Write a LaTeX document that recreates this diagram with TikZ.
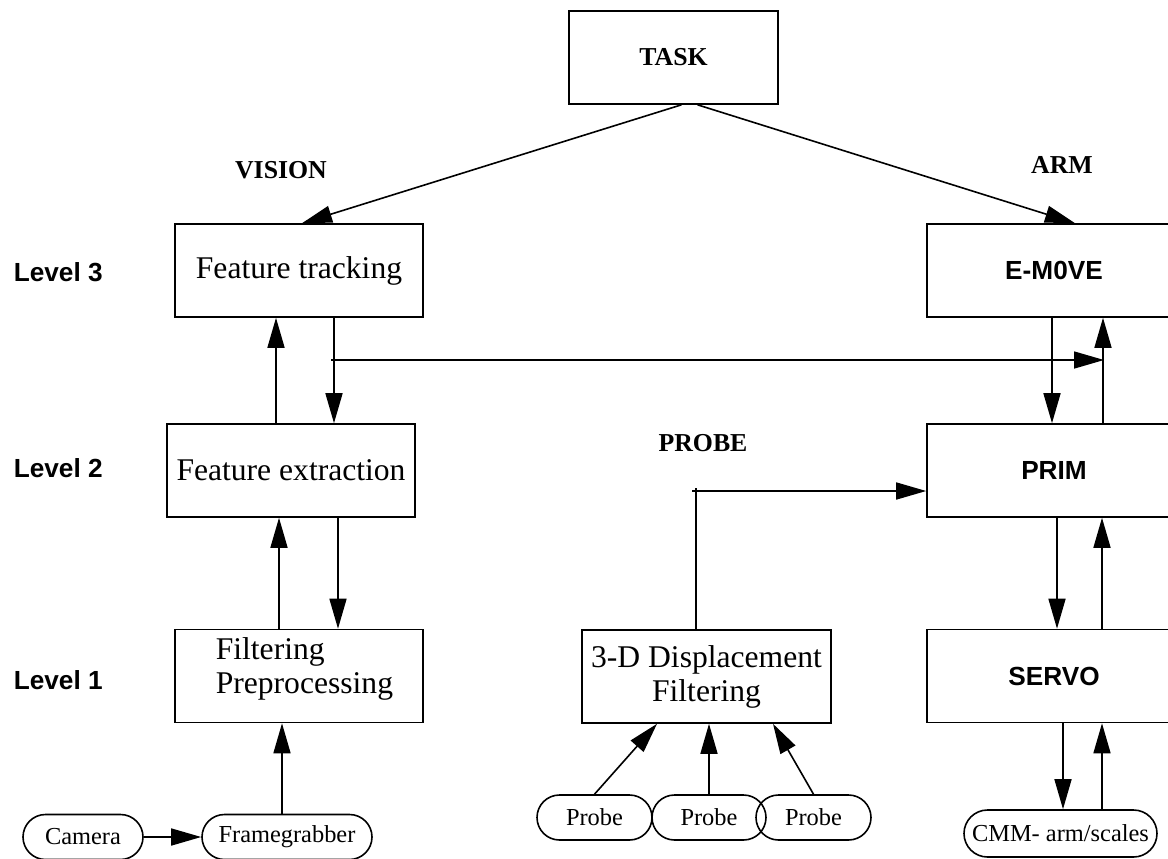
\documentclass[tikz,border=0pt]{standalone}
\usepackage{fontspec}
\setmainfont{Liberation Serif}
\setsansfont{Liberation Sans}
\usepackage{tikz}
\usetikzlibrary{positioning, arrows.meta, shapes.misc, calc}
\tikzset{
    block/.style={draw, line width=0.8pt, minimum height=46.5pt, inner sep=0pt},
    sensor/.style={draw, rounded rectangle, line width=0.8pt, minimum height=22.5pt, inner sep=0pt, font=\fontsize{12.2}{13}\selectfont},
    serif/.style={font=\fontsize{15.8}{17}\selectfont},
    head/.style={font=\fontsize{12.9}{14}\selectfont\bfseries, inner sep=0pt},
    lvl/.style={font=\fontsize{13.1}{14}\selectfont\sffamily\bfseries, inner sep=0pt},
}

\begin{document}
\begin{tikzpicture}[x=0.5pt, y=-0.5pt, line width=0.8pt, >={Triangle[length=15pt, width=8.5pt]}]
    \useasboundingbox (0,0) rectangle (1168,858);

    \node[block, head, minimum width=104.5pt] (task) at (673.5,57.5) {TASK};
    \node[head] (vision) at (281,170) {VISION};
    \node[head] (arm) at (1062,165) {ARM};
    \node[head] (probe) at (703,443) {PROBE};

    \node[lvl, anchor=west] (lev3) at (13,272) {Level 3};
    \node[lvl, anchor=west] (lev2) at (13,468) {Level 2};
    \node[lvl, anchor=west] (lev1) at (13,680) {Level 1};

    \node[block, serif, minimum width=124pt] (ftrack) at (299,270.5) {Feature tracking};
    \node[block, serif, minimum width=124pt] (fext) at (291,470.5) {Feature extraction};
    \node[block, minimum width=124pt] (filt) at (299,676) {};
    \node[serif, align=left, anchor=west, inner sep=0pt] (filttxt) at (215,669) {Filtering\\Preprocessing};
    \node[block, serif, align=center, minimum width=124.5pt] (disp) at (706.5,676.5) {3-D Displacement\\Filtering};

    \node[block, lvl, minimum width=127pt] (emove) at (1054,270.5) {E-M0VE};
    \node[block, lvl, minimum width=127pt] (prim) at (1054,470.5) {PRIM};
    \node[block, lvl, minimum width=127pt] (servo) at (1054,676) {SERVO};

    \node[sensor, minimum width=60pt] (camera) at (83,837) {Camera};
    \node[sensor, minimum width=85pt] (grab) at (287,837) {Framegrabber};
    \node[sensor, minimum width=57.5pt] (p1) at (594.5,817.5) {Probe};
    \node[sensor, minimum width=57pt] (p2) at (709,817.5) {Probe};
    \node[sensor, minimum width=57.5pt] (p3) at (813.5,817.5) {Probe};
    \node[sensor, minimum width=96.5pt, minimum height=23.5pt] (cmm) at (1060.5,833.5) {CMM- arm/scales};

    \draw ([xshift=4pt]task.south) edge[->] (ftrack.north -| 302,0);
    \draw ([xshift=12pt]task.south) edge[->] (emove.north -| 1075,0);

    \draw (fext.north -| 276,0) edge[->] (ftrack.south -| 276,0);
    \draw (ftrack.south -| 334,0) edge[->] (fext.north -| 334,0);
    \draw (filt.north -| 279,0) edge[->] (fext.south -| 279,0);
    \draw (fext.south -| 338,0) edge[->] (filt.north -| 338,0);
    \draw (grab.north -| 282,0) edge[->] (filt.south -| 282,0);
    \draw (camera) edge[->] (grab);

    \coordinate (tapL) at (331,360);
    \coordinate (tapR) at (1104,360);
    \draw (tapL) edge[->] (tapR);

    \draw (emove.south -| 1052,0) edge[->] (prim.north -| 1052,0);
    \draw (prim.north -| 1103,0) edge[->] (emove.south -| 1103,0);
    \draw (prim.south -| 1057,0) edge[->] (servo.north -| 1057,0);
    \draw (servo.north -| 1102,0) edge[->] (prim.south -| 1102,0);
    \draw (servo.south -| 1063,0) edge[->] (cmm.north -| 1063,0);
    \draw (cmm.north -| 1102,0) edge[->] (servo.south -| 1102,0);

    \draw (p1.north) edge[->] (disp.south -| 657,0);
    \draw (p2.north) edge[->] (disp.south -| p2.north);
    \draw (p3.north) edge[->] (disp.south -| 773,0);

    \coordinate (probeTap) at (692,491);
    \draw (disp.north -| 696,0) -- (696,488);
    \draw (probeTap) edge[->] (prim.west |- probeTap);
\end{tikzpicture}
\end{document}
